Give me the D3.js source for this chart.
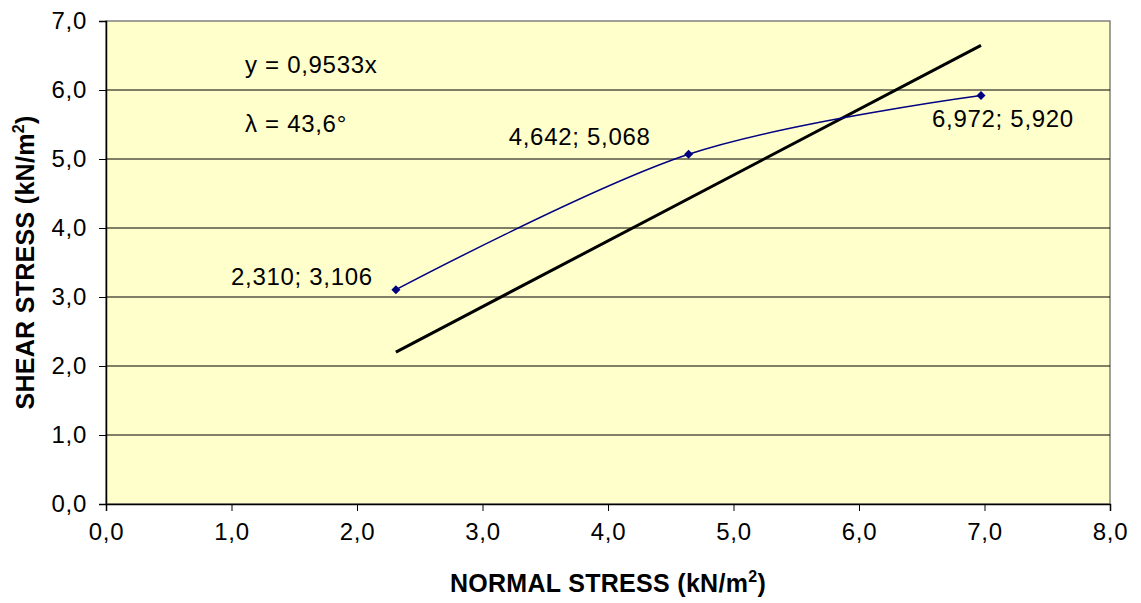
<!DOCTYPE html>
<html>
<head>
<meta charset="utf-8">
<script src="https://cdn.jsdelivr.net/npm/d3@7"></script>
<style>
  body { margin: 0; background: #fff; }
  text { font-family: "Liberation Sans", Arial, sans-serif; fill: #000; }
</style>
</head>
<body>
<svg id="chart" width="1141" height="603"></svg>
<script>
// measured points (normal stress, shear stress)
const normalStress = [2.310, 4.642, 6.972]
const shearStress = [3.106, 5.068, 5.920]
const slope = 0.9533
const frictionAngle = 43.6
const xTicks = [0, 1, 2, 3, 4, 5, 6, 7, 8]
const yTicks = [0, 1, 2, 3, 4, 5, 6, 7]

const margin = {left: 106, right: 31, top: 21, bottom: 99}
const width = 1141, height = 603

const svg = d3.select('#chart')

const x = d3.scaleLinear()
    .domain([0, 8])
    .range([margin.left, width - margin.right])

const y = d3.scaleLinear()
    .domain([0, 7])
    .range([height - margin.bottom, margin.top])

const comma = f => v => d3.format(f)(v).replace('.', ',')

// plot background
svg.append('rect')
    .attr('x', x(0))
    .attr('y', y(7))
    .attr('width', x(8) - x(0))
    .attr('height', y(0) - y(7))
    .attr('fill', '#ffffcc')
    .attr('stroke', '#808080')
    .attr('stroke-width', 1.5)

// gridlines
svg.append('g')
    .selectAll('line')
    .data(yTicks.filter(d => d > 0 && d < 7))
    .join('line')
    .attr('x1', x(0))
    .attr('x2', x(8))
    .attr('y1', d => y(d))
    .attr('y2', d => y(d))
    .attr('stroke', '#000')
    .attr('stroke-width', 1)

// axes
let xAxis = svg.append('g')
    .attr('transform', `translate(0,${y(0)})`)
    .call(d3.axisBottom(x).tickValues(xTicks).tickFormat(comma('.1f')).tickSize(7).tickPadding(12))

let yAxis = svg.append('g')
    .attr('transform', `translate(${x(0)},0)`)
    .call(d3.axisLeft(y).tickValues(yTicks).tickFormat(comma('.1f')).tickSize(7).tickPadding(12))

;[xAxis, yAxis].forEach(a => {
    a.select('.domain').attr('stroke', '#000').attr('stroke-width', 1.5)
    a.selectAll('.tick line').attr('stroke', '#000')
    a.selectAll('.tick text')
        .style('font-family', '"Liberation Sans", Arial, sans-serif')
        .style('font-size', '24px')
        .style('letter-spacing', '0.7px')
        .attr('fill', '#000')
})

// trend line y = slope * x
const xs = d3.extent(normalStress)
svg.append('line')
    .attr('x1', x(xs[0]))
    .attr('y1', y(slope * xs[0]))
    .attr('x2', x(xs[1]))
    .attr('y2', y(slope * xs[1]))
    .attr('stroke', '#000')
    .attr('stroke-width', 3)

// smoothed series
const points = normalStress.map((d, i) => ({nx: d, sy: shearStress[i]}))

svg.append('path')
    .datum(points)
    .attr('fill', 'none')
    .attr('stroke', '#000080')
    .attr('stroke-width', 1.5)
    .attr('d', d3.line()
        .x(d => x(d.nx))
        .y(d => y(d.sy))
        .curve(d3.curveCardinal.tension(0)))

svg.append('g')
    .selectAll('path')
    .data(points)
    .join('path')
    .attr('transform', d => `translate(${x(d.nx)},${y(d.sy)})`)
    .attr('d', d3.symbol(d3.symbolDiamond2, 52))
    .attr('fill', '#000080')

// data labels
const labelOffsets = [
    {dx: -23, dy: -5, anchor: 'end'},
    {dx: -38, dy: -9, anchor: 'end'},
    {dx: 22, dy: 31, anchor: 'middle'}
]

svg.append('g')
    .selectAll('text')
    .data(points)
    .join('text')
    .attr('x', (d, i) => x(d.nx) + labelOffsets[i].dx)
    .attr('y', (d, i) => y(d.sy) + labelOffsets[i].dy)
    .attr('text-anchor', (d, i) => labelOffsets[i].anchor)
    .style('font-size', '24px')
    .style('letter-spacing', '0.7px')
    .text(d => `${comma('.3f')(d.nx)}; ${comma('.3f')(d.sy)}`)

// equation text
svg.append('text')
    .attr('x', 245)
    .attr('y', 73)
    .style('font-size', '24px')
    .style('letter-spacing', '0.7px')
    .text(`y = ${comma('.4f')(slope)}x`)

svg.append('text')
    .attr('x', 245)
    .attr('y', 132)
    .style('font-size', '24px')
    .style('letter-spacing', '0.7px')
    .text(`λ = ${comma('.1f')(frictionAngle)}°`)

// axis titles
const xTitle = svg.append('text')
    .attr('x', (x(0) + x(8)) / 2)
    .attr('y', 592)
    .attr('text-anchor', 'middle')
    .style('font-size', '25px')
    .style('font-weight', 'bold')
    .style('letter-spacing', '0.3px')
xTitle.append('tspan').text('NORMAL STRESS (kN/m')
xTitle.append('tspan').attr('dy', -10).style('font-size', '16px').text('2')
xTitle.append('tspan').attr('dy', 10).text(')')

const yTitle = svg.append('text')
    .attr('transform', `translate(34,${(y(0) + y(7)) / 2}) rotate(-90)`)
    .attr('text-anchor', 'middle')
    .style('font-size', '25px')
    .style('font-weight', 'bold')
    .style('letter-spacing', '0.3px')
yTitle.append('tspan').text('SHEAR STRESS (kN/m')
yTitle.append('tspan').attr('dy', -10).style('font-size', '16px').text('2')
yTitle.append('tspan').attr('dy', 10).text(')')
</script>
</body>
</html>
